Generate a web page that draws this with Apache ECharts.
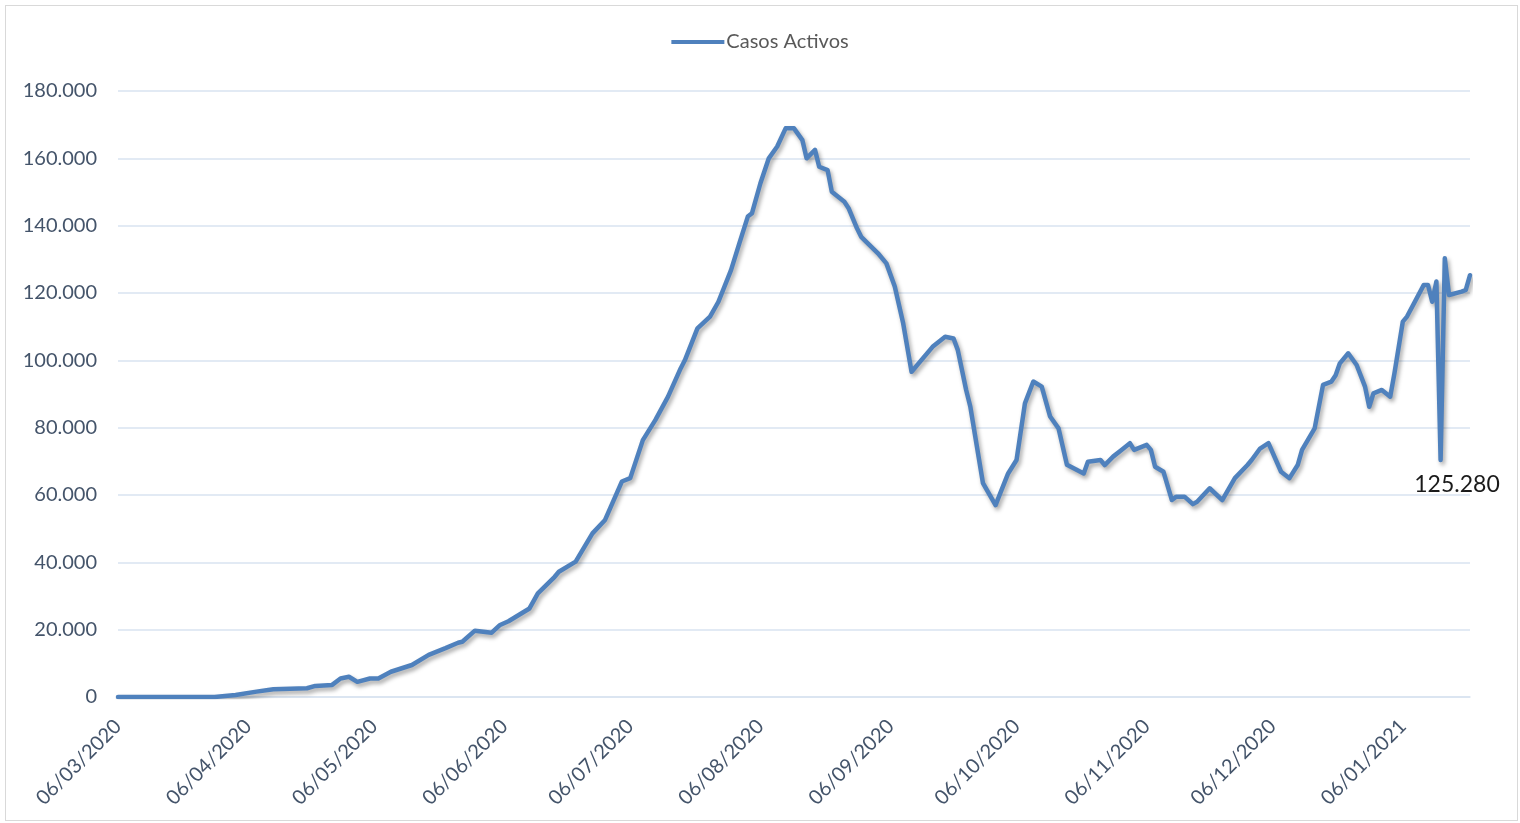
<!DOCTYPE html>
<html>
<head>
<meta charset="utf-8">
<script src="https://cdn.jsdelivr.net/npm/echarts@6/dist/echarts.min.js"></script>
<style>
html,body{margin:0;padding:0;background:#fff;}
#chart{position:absolute;left:0;top:0;width:1520px;height:823px;}
#frame{position:absolute;left:5px;top:5px;width:1511px;height:814px;border:1px solid #d9d9d9;pointer-events:none;}
</style>
</head>
<body>
<div id="chart"></div>
<div id="frame"></div>
<script>
// Days elapsed since 06/03/2020
const dayOffsets = [0,23,28,33,37,45,47,51,53,55,
57,60,62,65,70,74,78,81,82,85,
89,91,93,98,100,104,105,109,113,116,
120,122,125,128,131,134,135,138,141,143,
146,148,150,151,153,155,157,159,161,163,
164,166,167,169,170,173,174,176,177,181,
183,185,187,189,194,197,199,200,202,203,
206,209,212,214,216,218,220,222,224,226,
230,231,234,235,237,239,241,242,245,246,
247,249,251,252,254,256,257,260,263,266,
269,270,272,274,277,279,281,282,285,287,
289,290,291,293,295,297,298,299,301,303,
304,306,307,311,312,313,314,315,316,317,
320,321,322];
const casosActivos = [0,0,600,1600,2300,2600,3300,3600,5500,6000,
4500,5500,5500,7500,9500,12500,14500,16100,16400,19700,
19100,21400,22500,26300,30800,35700,37200,40200,48600,52600,
64000,65000,76300,82300,89200,97600,100000,109500,113000,117400,
126800,134800,142700,143700,152600,160000,163500,168900,168900,165400,
160000,162500,157500,156500,150100,147100,145200,139200,136700,131800,
128800,121900,111000,96600,104000,107000,106500,103100,91200,86200,
63500,57000,66400,70400,87200,93700,92200,83300,79800,69000,
66400,69900,70400,68900,71400,73400,75400,73400,74900,73400,
68400,66900,58500,59500,59500,57300,58000,62000,58500,65000,
68900,70400,73800,75400,66900,65000,69000,73400,79800,92700,
93700,95600,99100,102100,98600,92200,86200,90200,91200,89200,
96100,111500,113000,122400,122400,117400,123400,70400,130300,119400,
120400,120900,125280];
const seriesName = 'Casos Activos';
const startDate = [2020, 2, 6];
const lastDay = 322;
const labelDayOfMonth = 6; // x tick labels on the 6th of each month

function pad(n){ return (n<10?'0':'')+n; }
function fmtThousands(v){ return String(v).replace(/\B(?=(\d{3})+(?!\d))/g, '.'); }

// daily date categories 06/03/2020 .. 22/01/2021
const dateCategories = [];
for (let d = 0; d <= lastDay; d++) {
  const dt = new Date(startDate[0], startDate[1], startDate[2] + d);
  dateCategories.push(pad(dt.getDate()) + '/' + pad(dt.getMonth()+1) + '/' + dt.getFullYear());
}

const seriesData = dayOffsets.map(function(d, i){ return [d, casosActivos[i]]; });

const chart = echarts.init(document.getElementById('chart'), null, {renderer: 'canvas'});
chart.setOption({
  animation: false,
  backgroundColor: '#fff',
  textStyle: { fontFamily: 'Lato' },
  legend: {
    top: 32, left: 'center', padding: 0,
    icon: 'rect', itemWidth: 53, itemHeight: 4, itemGap: 10,
    textStyle: { fontFamily: 'Lato', fontSize: 20, color: '#595959', padding: [0,0,0,-3] },
    data: [seriesName]
  },
  grid: { left: 118, right: 50, top: 91, bottom: 126, containLabel: false },
  xAxis: {
    type: 'category',
    data: dateCategories,
    boundaryGap: false,
    axisLine: { show: true, lineStyle: { color: '#D9E3F0', width: 1.5 } },
    axisTick: { show: false },
    splitLine: { show: false },
    axisLabel: {
      interval: function(index, value){ return value.indexOf(pad(labelDayOfMonth) + '/') === 0; },
      rotate: 45, margin: 26, fontFamily: 'Lato', fontSize: 20, color: '#44546A',
      hideOverlap: false
    }
  },
  yAxis: {
    type: 'value', min: 0, max: 180000, interval: 20000,
    axisLine: { show: false }, axisTick: { show: false },
    splitLine: { lineStyle: { color: '#D9E3F0', width: 1.5 } },
    axisLabel: { margin: 21, fontFamily: 'Lato', fontSize: 20, color: '#44546A',
      formatter: function(v){ return fmtThousands(v); } }
  },
  series: [{
    name: seriesName, type: 'line', data: seriesData,
    symbol: 'none', showSymbol: false, smooth: false,
    itemStyle: { color: '#4F81BD' },
    lineStyle: { color: '#4F81BD', width: 4.5, shadowColor: 'rgba(0,0,0,0.35)', shadowBlur: 4, shadowOffsetX: 2, shadowOffsetY: 3, cap: 'round', join: 'round' },
    endLabel: {
      show: true, distance: 0, offset: [-13, 209],
      align: 'center', verticalAlign: 'middle',
      formatter: function(p){ return fmtThousands(p.value[1]); },
      fontFamily: 'Lato', fontSize: 23, color: '#1a1a1a'
    }
  }]
});
</script>
</body>
</html>
